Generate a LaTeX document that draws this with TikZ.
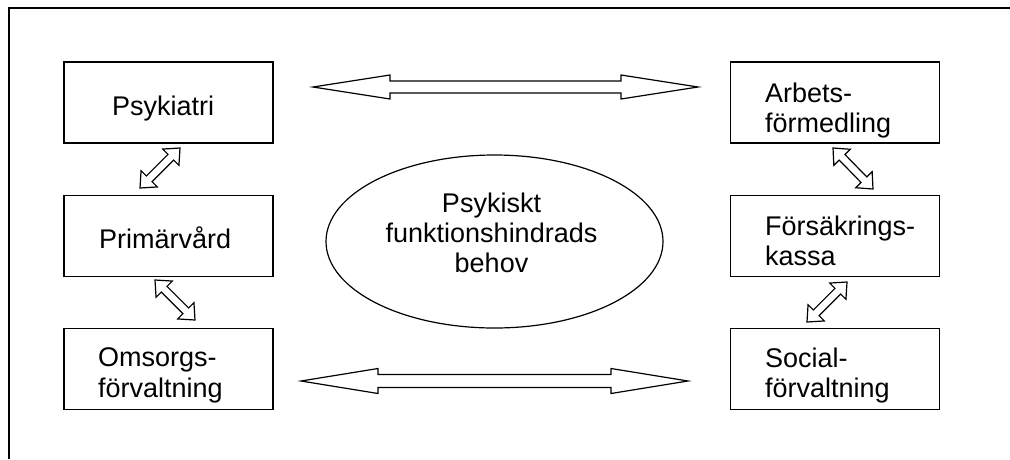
\documentclass[tikz,border=0pt]{standalone}
\usepackage{fontspec}
\setmainfont{Liberation Sans}
\usetikzlibrary{calc,shapes.geometric}
\tikzset{
  box/.style={draw, line width=1.5pt, minimum width=209pt, minimum height=81pt, inner sep=0pt},
  txt/.style={inner sep=0pt, font=\fontsize{27}{30.5}\selectfont, align=left},
  ctxt/.style={inner sep=0pt, font=\fontsize{27}{30}\selectfont, align=center},
  arr/.style={draw, line width=1.2pt, fill=white, line join=miter},
  frameline/.style={line width=2.8pt},
}
% #1 tip A, #2 tip B, #3 shaft half width, #4 head half width, #5 head length
\newcommand{\blockarr}[5]{%
  \path ($(#1)!#5!(#2)$) coordinate (hA) ($(#2)!#5!(#1)$) coordinate (hB);
  \draw[arr] (#1) -- ($(hA)!#4!-90:(#2)$) -- ($(hA)!#3!-90:(#2)$)
    -- ($(hB)!#3!90:(#1)$) -- ($(hB)!#4!90:(#1)$) -- (#2)
    -- ($(hB)!#4!-90:(#1)$) -- ($(hB)!#3!-90:(#1)$)
    -- ($(hA)!#3!90:(#2)$) -- ($(hA)!#4!90:(#2)$) -- cycle;
}
\begin{document}
\begin{tikzpicture}[x=1pt,y=-1pt]
\useasboundingbox (0,0) rectangle (1010,459);
\draw[frameline] (9,459) -- (9,8) -- (1010,8);

% boxes
\node[box] (psy)  at (168.5,102.5) {};
\node[box] (prim) at (168.5,236) {};
\node[box] (oms)  at (168.5,369) {};
\node[box] (arb)  at (835,102.5) {};
\node[box] (fors) at (835,236) {};
\node[box] (soc)  at (835,369) {};
\node[ellipse, draw, line width=1.2pt, minimum width=337pt, minimum height=173pt, inner sep=0pt] (beh) at (494.5,241.5) {};

% texts
\node[txt, anchor=base west] (tpsy) at (112,115) {Psykiatri};
\node[txt, anchor=base west] (tprim) at (99,248) {Primärvård};
\node[txt, anchor=north west] (toms) at (98,347.5) {Omsorgs-\\förvaltning};
\node[txt, anchor=north west] (tarb) at (765,82.5) {Arbets-\\förmedling};
\node[txt, anchor=north west] (tfors) at (765,215.5) {Försäkrings-\\kassa};
\node[txt, anchor=north west] (tsoc) at (765,347.5) {Social-\\förvaltning};
\node[ctxt, anchor=north] (tbeh) at (491.5,192.5) {Psykiskt\\funktionshindrads\\behov};

% arrow tips
\coordinate (t1) at (313,87);  \coordinate (t2) at (698,87);
\coordinate (b1) at (301,381); \coordinate (b2) at (688,381);
\coordinate (l1a) at (140,188); \coordinate (l1b) at (180,148);
\coordinate (l2a) at (155,280); \coordinate (l2b) at (195,320);
\coordinate (r1a) at (833,148); \coordinate (r1b) at (873,189);
\coordinate (r2a) at (847,282); \coordinate (r2b) at (807,322);

\blockarr{t1}{t2}{6pt}{12pt}{77pt}
\blockarr{b1}{b2}{6.5pt}{12.5pt}{77pt}
\blockarr{l1a}{l1b}{4pt}{11.5pt}{13pt}
\blockarr{l2a}{l2b}{4pt}{11.5pt}{13pt}
\blockarr{r1a}{r1b}{4pt}{11.5pt}{13pt}
\blockarr{r2a}{r2b}{4pt}{11.5pt}{13pt}
\end{tikzpicture}
\end{document}
